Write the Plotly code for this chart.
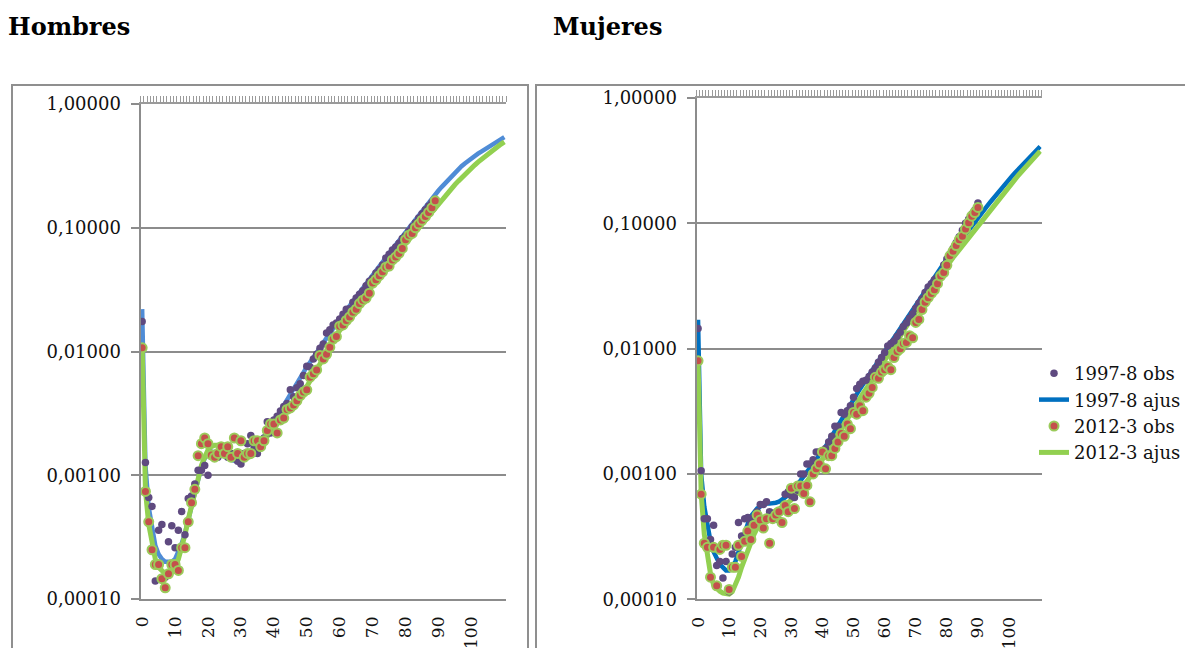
import plotly.graph_objects as go

W, H = 1185, 648

ages_fit = list(range(0, 111))
ages_obs_h = list(range(0, 90))
ages_obs_m = list(range(0, 91))
age_ticks = list(range(0, 101, 10))
age_ticktext = [str(a) for a in age_ticks]
y_tickvals = [0.0001, 0.001, 0.01, 0.1, 1.0]
y_ticktext = ["0,00010", "0,00100", "0,01000", "0,10000", "1,00000"]

# ---------------- Hombres ----------------
h_obs_1997 = [
    0.0175, 0.00127, 0.00066, 0.00056, 0.00014, 0.00036, 0.00040, 0.00015, 0.00029, 0.00039,
    0.00026, 0.00036, 0.00051, 0.00033, 0.00065, 0.00068, 0.00085, 0.0011, 0.0011, 0.0012,
    0.0010, 0.0015, 0.0014, 0.0014, 0.0015, 0.0016, 0.0014, 0.0015, 0.0014, 0.0013,
    0.00123, 0.0015, 0.0018, 0.0021, 0.0017, 0.0015, 0.0018, 0.0020, 0.0027, 0.0022,
    0.0028, 0.0030, 0.0033, 0.0036, 0.0038, 0.0049, 0.0043, 0.0051, 0.0055, 0.0064,
    0.0076, 0.0075, 0.0087, 0.0095, 0.0106, 0.0115, 0.0141, 0.0150, 0.0164, 0.0170,
    0.0183, 0.0200, 0.0220, 0.0222, 0.0250, 0.0270, 0.0290, 0.0310, 0.0340, 0.0370,
    0.0390, 0.0430, 0.0460, 0.0500, 0.0570, 0.0610, 0.0660, 0.0700, 0.0750, 0.0820,
    0.0860, 0.0940, 0.1020, 0.1100, 0.1200, 0.1300, 0.1400, 0.1500, 0.1600, 0.1700]

h_obs_2012 = [
    0.0107, 0.00074, 0.00042, 0.00025, 0.00019, 0.00019, 0.000146, 0.000123, 0.00016, 0.00019,
    0.00019, 0.00017, 0.00026, 0.00026, 0.00042, 0.00060, 0.00077, 0.00144, 0.0018, 0.0020,
    0.0018, 0.00146, 0.0014, 0.0015, 0.0017, 0.0015, 0.0017, 0.0014, 0.0020, 0.0015,
    0.0019, 0.0014, 0.0015, 0.0015, 0.0019, 0.0019, 0.0017, 0.0019, 0.0023, 0.0026,
    0.0026, 0.0022, 0.0028, 0.0029, 0.0034, 0.0035, 0.0037, 0.0040, 0.0044, 0.0047,
    0.0049, 0.0062, 0.0066, 0.0071, 0.0093, 0.0087, 0.0095, 0.0108, 0.0126, 0.0132,
    0.0160, 0.0164, 0.0178, 0.0190, 0.0208, 0.0220, 0.0244, 0.0260, 0.0270, 0.0296,
    0.0357, 0.0380, 0.0410, 0.0440, 0.0480, 0.0490, 0.0550, 0.0580, 0.0620, 0.0680,
    0.0800, 0.0870, 0.0900, 0.1000, 0.1070, 0.1150, 0.1230, 0.1330, 0.1450, 0.1650]

h_fit_1997 = [
    0.0220, 0.0012, 0.00055, 0.00036, 0.00027, 0.00023, 0.00021, 0.00020, 0.00020, 0.00020,
    0.00021, 0.00024, 0.00028, 0.00034, 0.00044, 0.00058, 0.00075, 0.00095, 0.00117, 0.00137,
    0.00150, 0.00155, 0.00155, 0.00152, 0.00147, 0.00142, 0.00137, 0.00133, 0.00131, 0.00130,
    0.00131, 0.00134, 0.00139, 0.00146, 0.00156, 0.00170, 0.00185, 0.00200, 0.00220, 0.00245,
    0.00270, 0.00300, 0.00330, 0.00370, 0.00410, 0.00450, 0.00500, 0.00550, 0.00610, 0.00680,
    0.00750, 0.00820, 0.00900, 0.00990, 0.01080, 0.01180, 0.01290, 0.01410, 0.01540, 0.01680,
    0.01830, 0.01990, 0.02160, 0.02350, 0.02550, 0.02770, 0.03000, 0.03260, 0.03540, 0.03840,
    0.04160, 0.04510, 0.04890, 0.05300, 0.05740, 0.06210, 0.06720, 0.07270, 0.07860, 0.08490,
    0.0920, 0.1000, 0.1090, 0.1180, 0.1280, 0.1390, 0.1500, 0.1610, 0.1730, 0.1860,
    0.2000, 0.2140, 0.2290, 0.2450, 0.2620, 0.2800, 0.2970, 0.3140, 0.3310, 0.3480,
    0.3650, 0.3810, 0.3970, 0.4130, 0.4290, 0.4450, 0.4630, 0.4810, 0.5000, 0.5200,
    0.5400]

h_fit_2012 = [
    0.0110, 0.00075, 0.00040, 0.00027, 0.00021, 0.00018, 0.00017, 0.00016, 0.00016, 0.00017,
    0.00018, 0.00021, 0.00026, 0.00033, 0.00044, 0.00058, 0.00075, 0.00095, 0.00120, 0.00140,
    0.00160, 0.00170, 0.00175, 0.00175, 0.00172, 0.00166, 0.00160, 0.00153, 0.00146, 0.00140,
    0.00136, 0.00135, 0.00137, 0.00142, 0.00150, 0.00160, 0.00175, 0.00190, 0.00208, 0.00228,
    0.00250, 0.00270, 0.00290, 0.00310, 0.00330, 0.00360, 0.00390, 0.00420, 0.00450, 0.00480,
    0.00520, 0.00580, 0.00640, 0.00710, 0.00790, 0.00880, 0.00970, 0.01080, 0.01200, 0.01340,
    0.01500, 0.01650, 0.01800, 0.01960, 0.02130, 0.02320, 0.02520, 0.02730, 0.02960, 0.03200,
    0.03450, 0.03700, 0.04000, 0.04300, 0.04700, 0.05100, 0.05500, 0.05900, 0.06400, 0.06900,
    0.0740, 0.0800, 0.0860, 0.0930, 0.1000, 0.1080, 0.1160, 0.1250, 0.1340, 0.1440,
    0.1550, 0.1670, 0.1800, 0.1940, 0.2080, 0.2230, 0.2380, 0.2540, 0.2700, 0.2870,
    0.3040, 0.3210, 0.3390, 0.3570, 0.3760, 0.3950, 0.4140, 0.4340, 0.4540, 0.4740,
    0.4940]

# ---------------- Mujeres ----------------
m_obs_1997 = [
    0.0145, 0.00106, 0.00044, 0.00044, 0.00030, 0.00039, 0.000186, 0.00020, 0.000148, 0.00020,
    0.000115, 0.00023, 0.00026, 0.00041, 0.00032, 0.00044, 0.00045, 0.00040, 0.00045, 0.00050,
    0.00057, 0.00057, 0.00060, 0.00050, 0.00046, 0.00045, 0.00043, 0.00052, 0.00069, 0.00072,
    0.00067, 0.00065, 0.00074, 0.00100, 0.00100, 0.00120, 0.00120, 0.00130, 0.00150, 0.00150,
    0.00150, 0.00160, 0.00180, 0.00200, 0.00240, 0.00240, 0.00310, 0.00300, 0.00320, 0.00350,
    0.00410, 0.00480, 0.00520, 0.00550, 0.00560, 0.00600, 0.00650, 0.00700, 0.00780, 0.00850,
    0.00930, 0.0105, 0.0110, 0.0115, 0.0125, 0.0135, 0.0150, 0.0160, 0.0175, 0.0190,
    0.0210, 0.0230, 0.0250, 0.0280, 0.0310, 0.0330, 0.0355, 0.0370, 0.0400, 0.0464,
    0.0520, 0.0570, 0.0630, 0.0700, 0.0780, 0.0880, 0.1000, 0.1080, 0.1180, 0.1280,
    0.1450]

m_obs_2012 = [
    0.0080, 0.00069, 0.00028, 0.00026, 0.00015, 0.00026, 0.000128, 0.00025, 0.00027, 0.00027,
    0.00012, 0.00018, 0.00018, 0.00027, 0.00022, 0.00029, 0.00035, 0.00030, 0.00039, 0.00047,
    0.00043, 0.00037, 0.00044, 0.00028, 0.00044, 0.00047, 0.00050, 0.00041, 0.00056, 0.00050,
    0.00077, 0.00053, 0.00080, 0.00080, 0.00070, 0.00081, 0.00060, 0.00100, 0.00110, 0.00120,
    0.00150, 0.00110, 0.00140, 0.00140, 0.00160, 0.00180, 0.00210, 0.00200, 0.00250, 0.00230,
    0.00310, 0.00300, 0.00350, 0.00320, 0.00410, 0.00440, 0.00490, 0.00590, 0.00580, 0.00650,
    0.00680, 0.00720, 0.00680, 0.00850, 0.00950, 0.01000, 0.01100, 0.01120, 0.01270, 0.01220,
    0.01620, 0.01710, 0.02050, 0.02350, 0.02550, 0.02760, 0.02950, 0.03300, 0.03800, 0.04050,
    0.04630, 0.05500, 0.06000, 0.06650, 0.07400, 0.07900, 0.09000, 0.10100, 0.11400, 0.12200,
    0.13400]

m_fit_1997 = [
    0.0170, 0.0010, 0.00055, 0.00038, 0.00029, 0.00024, 0.00021, 0.00019, 0.00018, 0.00017,
    0.00017, 0.00018, 0.00020, 0.00024, 0.00029, 0.00034, 0.00040, 0.00046, 0.00050, 0.00053,
    0.00055, 0.00057, 0.00058, 0.00058, 0.00058, 0.00059, 0.00060, 0.00062, 0.00065, 0.00068,
    0.00072, 0.00077, 0.00083, 0.00089, 0.00096, 0.00103, 0.00111, 0.00119, 0.00128, 0.00139,
    0.00150, 0.00165, 0.00182, 0.00201, 0.00222, 0.00245, 0.00270, 0.00298, 0.00328, 0.00362,
    0.00400, 0.00436, 0.00475, 0.00518, 0.00565, 0.00616, 0.00671, 0.00731, 0.00797, 0.00869,
    0.00950, 0.0103, 0.0112, 0.0122, 0.0133, 0.0145, 0.0158, 0.0172, 0.0187, 0.0203,
    0.0220, 0.0240, 0.0262, 0.0285, 0.0311, 0.0339, 0.0369, 0.0403, 0.0439, 0.0478,
    0.0520, 0.0562, 0.0607, 0.0655, 0.0708, 0.0764, 0.0825, 0.0891, 0.0963, 0.1040,
    0.1120, 0.1200, 0.1290, 0.1380, 0.1480, 0.1590, 0.1700, 0.1830, 0.1960, 0.2100,
    0.2250, 0.2390, 0.2540, 0.2700, 0.2870, 0.3050, 0.3230, 0.3430, 0.3640, 0.3860,
    0.4100]

m_fit_2012 = [
    0.0080, 0.00070, 0.00033, 0.00022, 0.00016, 0.00013, 0.000122, 0.000116, 0.000112, 0.00011,
    0.00011, 0.000115, 0.00013, 0.00015, 0.00018, 0.00021, 0.00025, 0.00029, 0.00033, 0.00037,
    0.00041, 0.00044, 0.00046, 0.00048, 0.00050, 0.00051, 0.00052, 0.00054, 0.00056, 0.00059,
    0.00062, 0.00066, 0.00070, 0.00075, 0.00081, 0.00087, 0.00094, 0.00102, 0.00110, 0.00119,
    0.00129, 0.00142, 0.00157, 0.00173, 0.00191, 0.00210, 0.00231, 0.00255, 0.00281, 0.00309,
    0.00340, 0.00370, 0.00402, 0.00438, 0.00476, 0.00518, 0.00564, 0.00613, 0.00667, 0.00726,
    0.00790, 0.00867, 0.00951, 0.0104, 0.0114, 0.0125, 0.0138, 0.0151, 0.0166, 0.0182,
    0.0200, 0.0217, 0.0236, 0.0257, 0.0279, 0.0303, 0.0330, 0.0358, 0.0390, 0.0423,
    0.0460, 0.0495, 0.0533, 0.0573, 0.0617, 0.0664, 0.0714, 0.0769, 0.0827, 0.0890,
    0.0960, 0.1030, 0.1110, 0.1190, 0.1280, 0.1380, 0.1490, 0.1600, 0.1720, 0.1860,
    0.2000, 0.2130, 0.2270, 0.2420, 0.2580, 0.2750, 0.2930, 0.3130, 0.3330, 0.3550,
    0.3770]

# ---------------- styling ----------------
FONT = "DejaVu Serif"
GRID = "#8c8c8c"
PURPLE = "#5F4A80"
RED = "#C4504C"
GREEN = "#92D050"
GREEN_EDGE = "#9BCB5A"
BLUE_H = "#4F8CD6"
BLUE_M = "#0070C0"

def px_x(p):
    return p / W

def px_y(p):
    return 1 - p / H

fig = go.Figure()

def add_panel(xa, ya, xtop, fit97, fit12, obs97, obs12, ages_obs, blue, legend):
    fig.add_trace(go.Scatter(x=ages_fit, y=fit97, mode="lines", name="1997-8 ajus",
                             line=dict(color=blue, width=4.5), xaxis=xa, yaxis=ya,
                             showlegend=legend, legendrank=2, hoverinfo="skip"))
    fig.add_trace(go.Scatter(x=ages_fit, y=fit12, mode="lines", name="2012-3 ajus",
                             line=dict(color=GREEN, width=5), xaxis=xa, yaxis=ya,
                             showlegend=legend, legendrank=4, hoverinfo="skip"))
    fig.add_trace(go.Scatter(x=ages_obs, y=obs97[:len(ages_obs)], mode="markers", name="1997-8 obs",
                             marker=dict(color=PURPLE, size=7.5), xaxis=xa, yaxis=ya,
                             showlegend=legend, legendrank=1, hoverinfo="skip"))
    fig.add_trace(go.Scatter(x=ages_obs, y=obs12[:len(ages_obs)], mode="markers", name="2012-3 obs",
                             marker=dict(color=RED, size=9, line=dict(color=GREEN_EDGE, width=2)),
                             xaxis=xa, yaxis=ya, showlegend=legend, legendrank=3, hoverinfo="skip"))
    # invisible helper trace so the top category axis is drawn
    fig.add_trace(go.Scatter(x=ages_fit[:1], y=fit97[:1], mode="markers",
                             marker=dict(opacity=0), xaxis=xtop, yaxis=ya,
                             showlegend=False, hoverinfo="skip"))

add_panel("x", "y", "x3", h_fit_1997, h_fit_2012, h_obs_1997, h_obs_2012, ages_obs_h, BLUE_H, False)
add_panel("x2", "y2", "x4", m_fit_1997, m_fit_2012, m_obs_1997, m_obs_2012, ages_obs_m, BLUE_M, True)

def xbottom(domain):
    return dict(domain=domain, range=[-0.5, 110.5], tickmode="array", tickvals=age_ticks,
                ticktext=age_ticktext, tickangle=-90, ticks="", showgrid=False, zeroline=False,
                showline=True, linecolor=GRID, linewidth=1.5, automargin=False,
                ticklabelstandoff=9,
                tickfont=dict(family=FONT, size=17, color="#111"))

def xtop(over, anchor):
    return dict(overlaying=over, anchor=anchor, side="top", range=[-0.5, 110.5],
                tickmode="linear", tick0=-0.5, dtick=1, ticks="outside", ticklen=6,
                tickwidth=1, tickcolor="#9a9a9a", showline=True, linecolor="#9a9a9a",
                linewidth=2, showticklabels=False, showgrid=False, zeroline=False,
                automargin=False)

def yax(domain, anchor):
    return dict(domain=domain, anchor=anchor, type="log", range=[-4, 0], tickmode="array",
                tickvals=y_tickvals, ticktext=y_ticktext, showgrid=True, gridcolor=GRID,
                gridwidth=1.5, ticks="outside", ticklen=8, tickwidth=1.5, tickcolor=GRID,
                showline=True, linecolor=GRID, linewidth=2, zeroline=False,
                ticklabelstandoff=6, automargin=False,
                tickfont=dict(family=FONT, size=18, color="#111"))

fig.update_layout(
    width=W, height=H,
    margin=dict(l=0, r=0, t=0, b=0, pad=0, autoexpand=False),
    paper_bgcolor="white", plot_bgcolor="white",
    xaxis=dict(**xbottom([px_x(140.5), px_x(506)]), anchor="y"),
    yaxis=yax([px_y(599), px_y(104)], "x"),
    xaxis2=dict(**xbottom([px_x(696.5), px_x(1041.7)]), anchor="y2"),
    yaxis2=yax([px_y(599.3), px_y(98)], "x2"),
    xaxis3=xtop("x", "y"),
    xaxis4=xtop("x2", "y2"),
    legend=dict(x=px_x(1034), y=px_y(355), xanchor="left", yanchor="top",
                bgcolor="rgba(0,0,0,0)", font=dict(family=FONT, size=18, color="#111"),
                itemwidth=30, tracegroupgap=0),
    showlegend=True,
    shapes=[
        dict(type="rect", xref="paper", yref="paper", x0=px_x(12), x1=px_x(528),
             y0=-0.05, y1=px_y(85), line=dict(color="#8f8f8f", width=2), layer="below"),
        dict(type="rect", xref="paper", yref="paper", x0=px_x(536), x1=1.05,
             y0=-0.05, y1=px_y(85), line=dict(color="#8f8f8f", width=2), layer="below"),
    ],
    annotations=[
        dict(text="<b>Hombres</b>", xref="paper", yref="paper", x=px_x(6), y=px_y(27),
             xanchor="left", yanchor="middle", showarrow=False,
             font=dict(family=FONT, size=24, color="#000")),
        dict(text="<b>Mujeres</b>", xref="paper", yref="paper", x=px_x(551), y=px_y(27),
             xanchor="left", yanchor="middle", showarrow=False,
             font=dict(family=FONT, size=24, color="#000")),
    ],
)

fig.write_html("out.html")
